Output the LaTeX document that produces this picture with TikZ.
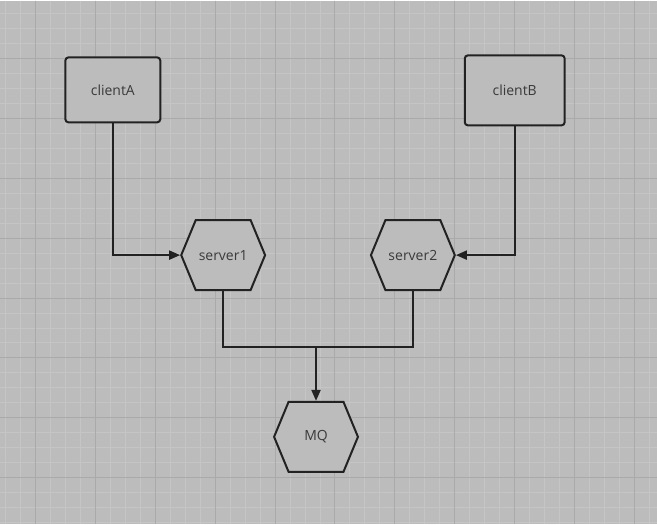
\documentclass[tikz,border=0pt]{standalone}
\usepackage{fontspec}
\setmainfont{Open Sans}
\usetikzlibrary{arrows.meta,shapes.symbols}
\definecolor{canvasgray}{HTML}{BCBCBC}
\definecolor{gridminor}{HTML}{C5C5C5}
\definecolor{gridmajor}{HTML}{AAAAAA}
\definecolor{boxink}{HTML}{222222}
\definecolor{labelink}{HTML}{3A3A3A}

\begin{document}
\begin{tikzpicture}[
  x=1pt, y=-1pt,
  every node/.style={font=\fontsize{14}{16}\selectfont, text=labelink},
  client/.style={draw=boxink, fill=canvasgray, line width=2pt,
    rounded corners=3pt, inner sep=0pt},
  service/.style={signal, signal to=west and east, signal pointer angle=135,
    draw=boxink, fill=canvasgray, line width=2pt, inner sep=0pt,
    minimum width=84pt, minimum height=70pt},
  link/.style={boxink, line width=2pt},
  feed/.style={link, -{Triangle[length=11pt, width=9pt]}}
]

%% ==== 背景网格 =======================================================
\fill[canvasgray] (0,0) rectangle (657,524);
\foreach \gx in {5,20,...,657}
  \draw[gridminor, line width=1pt] (\gx,0) -- (\gx,524);
\foreach \gy in {13,28,...,524}
  \draw[gridminor, line width=1pt] (0,\gy) -- (657,\gy);
\foreach \gx in {35,95,...,657}
  \draw[gridmajor, line width=1pt] (\gx,0) -- (\gx,524);
\foreach \gy in {58,118,...,524}
  \draw[gridmajor, line width=1pt] (0,\gy) -- (657,\gy);
\useasboundingbox (0,0) rectangle (657,524);

%% ==== 节点 ===========================================================
\node[client, minimum width=95pt, minimum height=65pt] (clientA) at (112.5,89.5) {clientA};
\node[client, minimum width=100pt, minimum height=70pt] (clientB) at (515,90) {clientB};

\node[service] (server1) at (223,255) {server1};
\node[service] (server2) at (413,255) {server2};
\node[service] (mq) at (316,437) {MQ};

\coordinate (bus) at (316,347);

%% ==== 连线 ===========================================================
\draw[feed] (clientA.south) |- (server1.west);
\draw[feed] (clientB.south) |- (server2.east);
\draw[link] (server1.south) |- (bus) -| (server2.south);
\draw[feed] (bus) -- (mq.north);

\end{tikzpicture}
\end{document}
